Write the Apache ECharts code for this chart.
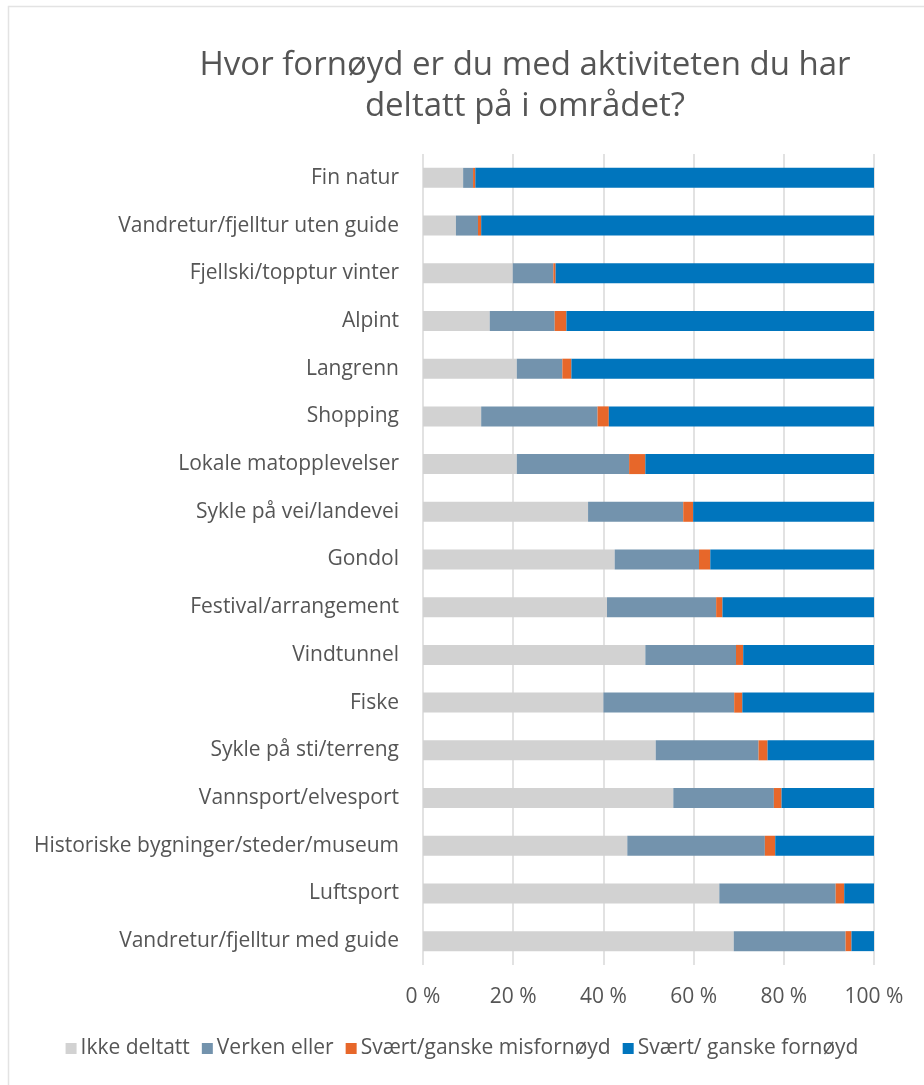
<!DOCTYPE html>
<html>
<head>
<meta charset="utf-8">
<script src="https://cdn.jsdelivr.net/npm/echarts@6/dist/echarts.min.js"></script>
<style>
  html, body { margin: 0; padding: 0; background: #fff; }
  #main { width: 924px; height: 1085px; }
</style>
</head>
<body>

<div id="main"></div>

<script type="text/javascript">
    // kategorier (øverst først)
    var categories = [
        'Fin natur',
        'Vandretur/fjelltur uten guide',
        'Fjellski/topptur vinter',
        'Alpint',
        'Langrenn',
        'Shopping',
        'Lokale matopplevelser',
        'Sykle på vei/landevei',
        'Gondol',
        'Festival/arrangement',
        'Vindtunnel',
        'Fiske',
        'Sykle på sti/terreng',
        'Vannsport/elvesport',
        'Historiske bygninger/steder/museum',
        'Luftsport',
        'Vandretur/fjelltur med guide'
    ];

    // andeler i prosent
    var ikkeDeltatt = [8.9, 7.3, 19.9, 14.8, 20.8, 12.9, 20.8, 36.6, 42.5, 40.8, 49.3, 40.0, 51.6, 55.5, 45.3, 65.7, 68.9];
    var verkenEller = [2.2, 4.9, 9.0, 14.4, 10.1, 25.8, 24.9, 21.1, 18.7, 24.2, 20.1, 29.0, 22.8, 22.3, 30.5, 25.8, 24.8];
    var misfornoyd  = [0.5, 0.7, 0.5, 2.6, 2.0, 2.5, 3.6, 2.2, 2.5, 1.4, 1.6, 1.8, 2.0, 1.7, 2.3, 1.9, 1.3];
    var fornoyd     = [88.4, 87.1, 70.6, 68.2, 67.1, 58.8, 50.7, 40.1, 36.3, 33.6, 29.0, 29.2, 23.6, 20.5, 21.9, 6.6, 5.0];

    var xTicks = [0, 20, 40, 60, 80, 100];

    var textColor = '#555555';
    var font = 'Open Sans';

    var myChart = echarts.init(document.getElementById('main'));

    var option = {
        backgroundColor: '#fff',
        // tittel
        title: {
            text: 'Hvor fornøyd er du med aktiviteten du har\ndeltatt på i området?',
            left: 520,
            top: 40,
            textAlign: 'center',
            textStyle: {
                color: textColor,
                fontFamily: font,
                fontWeight: 'normal',
                fontSize: 33,
                lineHeight: 41
            }
        },
        // ramme rundt diagrammet
        graphic: [{
            type: 'rect',
            shape: { x: 8.5, y: 6.5, width: 930, height: 1100 },
            style: { fill: 'none', stroke: '#e3e3e3', lineWidth: 1.5 },
            silent: true
        }],
        color: ['#d2d2d2', '#7393ad', '#e7672a', '#0075bd'],
        legend: {
            bottom: 21,
            left: 'center',
            itemWidth: 11,
            itemHeight: 11,
            itemGap: 12,
            icon: 'rect',
            textStyle: {
                color: textColor,
                fontFamily: font,
                fontSize: 21,
                padding: [0, 0, 0, -1]
            },
            data: ['Ikke deltatt', 'Verken eller', 'Svært/ganske misfornøyd', 'Svært/ ganske fornøyd']
        },
        grid: {
            left: 423,
            right: 50,
            top: 154,
            bottom: 120,
            containLabel: false
        },
        xAxis: {
            type: 'value',
            min: 0,
            max: 100,
            interval: 20,
            axisLine: { show: false },
            axisTick: { show: false },
            axisLabel: {
                color: textColor,
                fontFamily: font,
                fontSize: 21,
                margin: 22,
                formatter: function (v) { return xTicks.indexOf(v) >= 0 ? v + ' %' : ''; }
            },
            splitLine: { lineStyle: { color: '#d9d9d9', width: 1.5 } }
        },
        yAxis: {
            type: 'category',
            inverse: true,
            data: categories,
            axisLine: { show: false },
            axisTick: { show: false },
            axisLabel: {
                color: textColor,
                fontFamily: font,
                fontSize: 21,
                margin: 24
            }
        },
        series: [
            { name: 'Ikke deltatt', type: 'bar', stack: 'total', barWidth: 20, data: ikkeDeltatt },
            { name: 'Verken eller', type: 'bar', stack: 'total', barWidth: 20, data: verkenEller },
            { name: 'Svært/ganske misfornøyd', type: 'bar', stack: 'total', barWidth: 20, data: misfornoyd },
            { name: 'Svært/ ganske fornøyd', type: 'bar', stack: 'total', barWidth: 20, data: fornoyd }
        ]
    };

    myChart.setOption(option);
</script>

</body>
</html>
